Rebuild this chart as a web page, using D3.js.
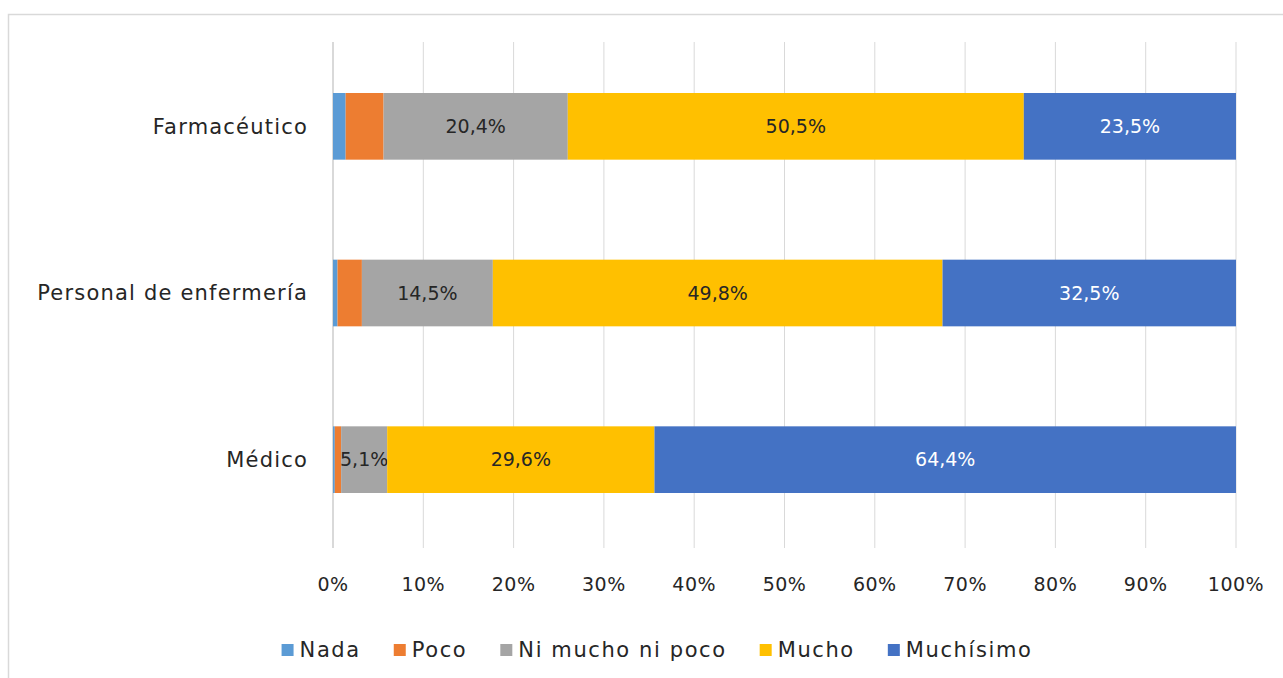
<!DOCTYPE html>
<html>
<head>
<meta charset="utf-8">
<script src="https://cdn.jsdelivr.net/npm/d3@7"></script>
<style>
  body { margin: 0; background: #fff; }
  text { font-family: "DejaVu Sans", sans-serif; fill: #262626; }
</style>
</head>
<body>
<svg id="chart" width="1283" height="678"></svg>
<script>
var categories = ["Farmacéutico", "Personal de enfermería", "Médico"];
var seriesNames = ["Nada", "Poco", "Ni mucho ni poco", "Mucho", "Muchísimo"];
var seriesColors = ["#5b9bd5", "#ed7d31", "#a5a5a5", "#ffc000", "#4472c4"];
var nada = [1.4, 0.5, 0.2];
var poco = [4.2, 2.7, 0.7];
var niMuchoNiPoco = [20.4, 14.5, 5.1];
var mucho = [50.5, 49.8, 29.6];
var muchisimo = [23.5, 32.5, 64.4];
var ticks = [0, 10, 20, 30, 40, 50, 60, 70, 80, 90, 100];

var series = [nada, poco, niMuchoNiPoco, mucho, muchisimo];

var svg = d3.select("#chart");

// outer chart border (only top/left visible in the picture)
svg.append("rect")
  .attr("x", 8.5).attr("y", 14.5)
  .attr("width", 1400).attr("height", 800)
  .attr("fill", "none")
  .attr("stroke", "#d9d9d9")
  .attr("stroke-width", 1.5);

var x = d3.scaleLinear().domain([0, 100]).range([333, 1236]);
var y = d3.scaleBand().domain(categories).range([43, 543])
  .paddingInner(0.6).paddingOuter(0.3);

// gridlines
svg.append("g").selectAll("line")
  .data(ticks)
  .enter().append("line")
  .attr("x1", function(d){ return x(d); })
  .attr("x2", function(d){ return x(d); })
  .attr("y1", 42).attr("y2", 548)
  .attr("stroke", "#d9d9d9")
  .attr("stroke-width", function(d){ return d === 0 ? 2 : 1; });

// tick labels
svg.append("g").selectAll("text")
  .data(ticks)
  .enter().append("text")
  .attr("x", function(d){ return x(d); })
  .attr("y", 591)
  .attr("text-anchor", "middle")
  .style("font-size", "19px")
  .style("letter-spacing", "0.5px")
  .text(function(d){ return d + "%"; });

// category labels
svg.append("g").selectAll("text")
  .data(categories)
  .enter().append("text")
  .attr("x", 308)
  .attr("y", function(d){ return y(d) + y.bandwidth() / 2; })
  .attr("dy", "0.35em")
  .attr("text-anchor", "end")
  .style("font-size", "21px")
  .style("letter-spacing", "1.2px")
  .text(function(d){ return d; });

// stacked segments
var rows = categories.map(function(c, i){
  var row = {cat: c};
  seriesNames.forEach(function(s, j){ row[s] = series[j][i]; });
  return row;
});
var stacked = d3.stack().keys(seriesNames)(rows);

var fmt = function(v){ return v.toFixed(1).replace(".", ",") + "%"; };

stacked.forEach(function(layer, j){
  var g = svg.append("g");
  g.selectAll("rect")
    .data(layer)
    .enter().append("rect")
    .attr("x", function(d){ return x(d[0]); })
    .attr("y", function(d){ return y(d.data.cat); })
    .attr("width", function(d){ return x(d[1]) - x(d[0]); })
    .attr("height", y.bandwidth())
    .attr("fill", seriesColors[j]);

  g.selectAll("text")
    .data(layer.filter(function(d){ return d[1] - d[0] >= 5; }))
    .enter().append("text")
    .attr("x", function(d){ return (x(d[0]) + x(d[1])) / 2; })
    .attr("y", function(d){ return y(d.data.cat) + y.bandwidth() / 2; })
    .attr("dy", "0.35em")
    .attr("text-anchor", "middle")
    .style("font-size", "19px")
    .style("fill", j === 4 ? "#ffffff" : "#262626")
    .text(function(d){ return fmt(d[1] - d[0]); });
});

// legend
var legend = svg.append("g");
var items = legend.selectAll("g")
  .data(seriesNames)
  .enter().append("g");
items.append("rect")
  .attr("width", 12).attr("height", 12)
  .attr("y", -13)
  .attr("fill", function(d, i){ return seriesColors[i]; });
items.append("text")
  .attr("x", 18)
  .style("font-size", "21px")
  .style("letter-spacing", "1.6px")
  .text(function(d){ return d; });

var pos = 0;
var gap = 33;
items.each(function(){
  var w = 18 + d3.select(this).select("text").node().getComputedTextLength();
  d3.select(this).attr("transform", "translate(" + pos + ",0)");
  pos += w + gap;
});
var total = pos - gap;
legend.attr("transform", "translate(" + (657 - total / 2) + ",657)");
</script>
</body>
</html>
